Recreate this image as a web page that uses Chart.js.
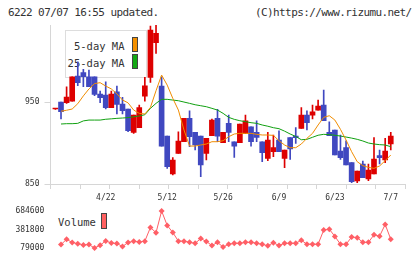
<!DOCTYPE html>
<html><head><meta charset="utf-8">
<script src="https://cdn.jsdelivr.net/npm/chart.js@4"></script>
<style>
html,body{margin:0;padding:0;background:#fff;}
#wrap{position:relative;width:420px;height:259px;overflow:hidden;background:#fff;font-family:"DejaVu Sans Mono",monospace;color:#333;}
.t{position:absolute;white-space:nowrap;}
.title{font-size:11px;letter-spacing:-0.6px;line-height:12px;top:6.5px;}
.lg{font-size:10.5px;line-height:12px;}
.sw{position:absolute;border:1px solid #444;}
canvas{position:absolute;left:0;display:block;}
</style></head>
<body><div id="wrap">
<div class="t title" style="left:8px">6222 07/07 16:55 updated.</div>
<div class="t title" style="left:255px">(C)https://www.rizumu.net/</div>
<div style="position:absolute;left:65px;top:30px;width:80px;height:46px;border:1px solid #ddd;"></div>
<div class="t lg" style="right:295.5px;top:40.2px">5-day MA</div>
<div class="t lg" style="right:295.5px;top:57.2px">25-day MA</div>
<div class="sw" style="left:131.5px;top:37px;width:4px;height:13px;background:#f39000;"></div>
<div class="sw" style="left:131.5px;top:54px;width:4px;height:13px;background:#14a814;"></div>
<div class="t lg" style="left:58px;top:216.2px">Volume</div>
<div class="sw" style="left:101px;top:213px;width:4px;height:14px;background:#ff6060;"></div>
<canvas id="c1" width="420" height="205" style="top:0"></canvas>
<canvas id="c2" width="420" height="59" style="top:200px"></canvas>
</div>
<script>
const dates = ['4/9','4/10','4/11','4/14','4/15','4/16','4/17','4/18','4/21','4/22','4/23','4/24','4/25','4/28','4/30',
'5/1','5/2','5/7','5/8','5/9','5/12','5/13','5/14','5/15','5/16','5/19','5/20','5/21','5/22','5/23','5/26','5/27','5/28','5/29','5/30',
'6/2','6/3','6/4','6/5','6/6','6/9','6/10','6/11','6/12','6/13','6/16','6/17','6/18','6/19','6/20','6/23','6/24','6/25','6/26','6/27','6/30',
'7/1','7/2','7/3','7/4','7/7'];
const tickDates = ['4/22','5/12','5/26','6/9','6/23','7/7'];
const priceTicks = [850, 950];
const volTicks = [79000, 381800, 684600];

const open  = [941.5,950,949.2,951.2,981.7,985.8,980.9,980.9,959.8,958.5,943.1,962.6,947.6,941.5,913.0,918.7,957.3,980.1,1022.4,969.5,908.5,862.2,887.4,901.6,930.1,913.0,908.5,887.4,908.9,930.1,900.4,924.0,901.6,900.4,911.8,919.9,913.0,901.6,881.3,889.4,903.7,881.3,906.5,908.5,917.9,934.1,934.1,940.2,946.3,913.0,915.9,890.2,894.3,876.0,853.7,874.4,856.1,862.2,884.6,879.3,898.8];
const high  = [941.5,950,968.7,980.9,999.2,989.8,989.0,980.9,963.4,974.8,963.4,969.5,955.7,941.5,934.1,946.3,980.1,1042.7,1048,980.9,908.5,882.1,913.8,930.1,939.4,913.0,908.5,905.7,929.3,941.1,913.0,934.1,901.6,923.2,934.1,919.9,927.2,901.6,913.0,909.8,915.0,891.5,906.5,918.7,943.1,939.4,946.3,952.4,964.6,926.0,915.9,909.8,902.8,876.0,865.9,878.0,874.4,906.5,891.5,905.7,913.0];
const low   = [941.0,929.3,948.4,951.2,969.9,968.7,968.7,957.7,949.2,941.5,943.1,935.4,935.4,913.8,911.8,918.7,951.2,974.0,1009.3,896.3,869.1,861.0,887.4,901.6,895.5,891.5,858.9,879.3,908.9,901.6,900.4,901.6,882.5,900.4,911.8,896.3,901.6,877.2,878.5,883.3,889.4,869.9,880.1,899.6,917.9,915.9,929.3,940.2,927.2,908.9,885.4,880.1,873.2,851.6,851.6,857.7,854.1,862.2,874.4,876.0,891.5];
const close = [941.5,938.2,956.1,980.9,973.6,980.9,968.7,959.3,955.3,943.1,959.8,947.2,939.4,915.0,934.1,943.1,969.9,1037.8,1033.7,896.3,871.1,879.3,902.4,930.1,907.7,897.6,873.2,905.7,928.0,908.5,913.0,913.0,896.3,923.2,927.2,901.6,906.9,888.2,903.7,894.3,889.4,891.5,892.7,906.5,934.1,924.8,938.2,945.1,927.2,908.9,885.4,882.1,873.2,852.8,865.9,857.7,867.1,880.5,882.1,890.2,908.5];

const ma5 = [null,938.8,940.0,941.5,948.0,957.5,966.0,972.5,973.6,969.5,966.0,960.0,952.5,949.0,
940.2,936.2,935.4,943.5,963.8,982.9,970.7,954.5,940.2,915.9,896.3,896.3,897.6,898.8,901.6,901.6,902.8,907.7,911.0,911.8,911.8,911.8,910.6,909.8,909.8,
909.3,902.8,897.6,894.3,894.3,898.8,905.7,911.8,922.0,931.3,933.3,928.0,916.7,903.7,889.4,877.2,872.4,870.3,869.1,872.0,878.5,885.4];
const ma25 = [null,923.2,923.6,923.6,924.0,927.0,928.0,928.0,928.0,929.0,929.5,930.1,930.5,931.0,
932.0,933.0,934.5,942.3,948.4,953.3,953.3,952.4,951.6,950.0,948.4,946.7,945.5,944.3,942.3,940.2,936.2,931.3,928.9,927.2,926.0,924.8,924.0,922.0,920.5,
918.7,917.5,914.5,911.0,908.0,904.0,904.5,907.0,909.5,910.6,910.2,909.5,908.5,907.3,906.0,904.5,902.5,900.0,898.8,898.0,897.6,895.5];
const volume = [null,134500,222300,168400,149900,129900,134500,79000,125200,194600,160700,153000,103700,168400,191500,176100,191500,415000,330000,684600,448800,
333000,191500,191500,171500,156000,233100,186900,119100,171500,94400,140600,156000,156000,171500,171500,156000,140600,114400,165300,119100,
156000,156000,156000,206900,140600,140600,140600,371800,387200,268500,140600,140600,257800,248500,171500,171500,294700,273200,464200,222300];

const UP = '#dd0000', DOWN = '#4048c0';
const candleColor = open.map((o, k) => close[k] >= o ? UP : DOWN);
const X_MIN = -0.88, X_MAX = 62.6;
const tickFont = {family: 'DejaVu Sans Mono', size: 8};
const GRID = '#d6d6d6';
const pts = arr => arr.map((v, k) => ({x: k, y: v}));

new Chart(document.getElementById('c1'), {
  type: 'bar',
  data: {datasets: [
    {type: 'line', label: '5-day MA', data: pts(ma5), borderColor: '#f08c00', borderWidth: 1, pointRadius: 0, order: 0},
    {type: 'line', label: '25-day MA', data: pts(ma25), borderColor: '#10a010', borderWidth: 1, pointRadius: 0, order: 0},
    {label: 'wick', data: dates.map((d, k) => ({x: k, y: [low[k], high[k]]})), backgroundColor: candleColor, barThickness: 1, grouped: false, order: 2},
    {label: 'body', data: dates.map((d, k) => ({x: k, y: [open[k], close[k]]})), backgroundColor: candleColor, barThickness: 5, minBarLength: 1, grouped: false, order: 1}
  ]},
  options: {
    responsive: false, animation: false, events: [],
    layout: {padding: {top: 25, right: 14.7, left: 0, bottom: 0}},
    plugins: {legend: {display: false}, tooltip: {enabled: false}},
    scales: {
      x: {type: 'linear', min: X_MIN, max: X_MAX, position: 'bottom', weight: 1, offset: false,
          grid: {display: false, drawTicks: false, offset: false}, border: {display: false},
          ticks: {autoSkip: false, maxRotation: 0, padding: 4, font: tickFont, color: '#333', callback: v => dates[v]},
          afterBuildTicks: s => { s.ticks = tickDates.map(d => ({value: dates.indexOf(d)})); },
          afterFit: s => { s.height = 16; }},
      x2: {type: 'linear', min: 0, max: 11, position: 'bottom', weight: 0,
          ticks: {display: false, stepSize: 1},
          grid: {drawOnChartArea: false, drawTicks: true, tickLength: 5, color: GRID},
          border: {color: GRID},
          afterFit: s => { s.height = 5; }},
      y: {type: 'linear', min: 850, max: 1044, position: 'left', beginAtZero: false,
          afterBuildTicks: s => { s.ticks = priceTicks.map(v => ({value: v})); },
          ticks: {padding: 5, font: tickFont, color: '#333', callback: v => String(v)},
          grid: {drawOnChartArea: false, tickLength: 6, color: GRID},
          border: {color: GRID},
          afterFit: s => { s.width = 50.5; }}
    }
  }
});

new Chart(document.getElementById('c2'), {
  type: 'line',
  data: {datasets: [
    {label: 'Volume', data: pts(volume), borderColor: '#ff5f66', borderWidth: 1, pointStyle: 'rectRot', pointRadius: 3,
     pointBackgroundColor: '#ff5f66', pointBorderWidth: 0, clip: false}
  ]},
  options: {
    responsive: false, animation: false, events: [],
    layout: {padding: {top: 9.5, right: 14.7, left: 0, bottom: 10.3}},
    plugins: {legend: {display: false}, tooltip: {enabled: false}},
    scales: {
      x: {type: 'linear', min: X_MIN, max: X_MAX, display: false},
      y: {type: 'linear', min: 79000, max: 684600,
          afterBuildTicks: s => { s.ticks = volTicks.map(v => ({value: v})); },
          ticks: {padding: 6.2, font: tickFont, color: '#333', callback: v => String(v)},
          grid: {display: false, drawTicks: false}, border: {display: false},
          afterFit: s => { s.width = 50.5; }}
    }
  }
});
</script>
</body></html>
